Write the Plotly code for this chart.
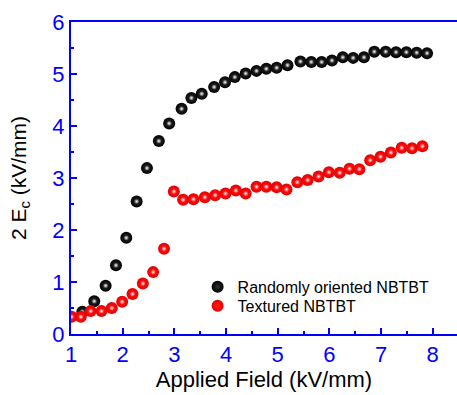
import plotly.graph_objects as go

# Randomly oriented NBTBT
x_random = [1.22, 1.45, 1.67, 1.87, 2.07, 2.27, 2.47, 2.70, 2.90, 3.14, 3.33, 3.53, 3.77,
            3.98, 4.17, 4.38, 4.59, 4.78, 4.98, 5.19, 5.44, 5.65, 5.85, 6.05, 6.26, 6.46,
            6.67, 6.87, 7.09, 7.29, 7.49, 7.69, 7.89]
y_random = [0.43, 0.63, 0.93, 1.32, 1.85, 2.55, 3.19, 3.71, 4.05, 4.33, 4.54, 4.62, 4.75,
            4.84, 4.94, 5.01, 5.06, 5.10, 5.12, 5.17, 5.24, 5.23, 5.23, 5.26, 5.32, 5.31,
            5.32, 5.43, 5.43, 5.42, 5.42, 5.41, 5.40]

# Textured NBTBT
x_textured = [1.01, 1.19, 1.38, 1.59, 1.79, 1.99, 2.19, 2.39, 2.59, 2.80, 2.99, 3.17, 3.37,
              3.59, 3.79, 3.99, 4.19, 4.38, 4.59, 4.78, 4.98, 5.17, 5.38, 5.58, 5.79, 5.99,
              6.20, 6.39, 6.58, 6.79, 6.99, 7.19, 7.40, 7.60, 7.80]
y_textured = [0.33, 0.33, 0.44, 0.44, 0.50, 0.62, 0.77, 0.97, 1.19, 1.64, 2.74, 2.58, 2.59,
              2.63, 2.67, 2.70, 2.76, 2.70, 2.83, 2.83, 2.82, 2.78, 2.92, 2.96, 3.03, 3.11,
              3.10, 3.18, 3.17, 3.34, 3.41, 3.49, 3.58, 3.57, 3.61]

series_names = ["Randomly oriented NBTBT", "Textured NBTBT"]
x_ticks = [1, 2, 3, 4, 5, 6, 7, 8]
y_ticks = [0, 1, 2, 3, 4, 5, 6]

FONT = "Arial, Liberation Sans, sans-serif"
BLUE = "#0000ff"

fig = go.Figure()

def add_spheres(xs, ys, name, base, center, legend_id):
    fig.add_trace(go.Scatter(
        x=xs, y=ys, mode="markers", name=name, legend=legend_id,
        marker=dict(size=12, color=base, line=dict(width=0),
                    gradient=dict(type="radial", color=center)),
    ))
    fig.add_trace(go.Scatter(
        x=xs, y=ys, mode="markers", showlegend=False, hoverinfo="skip",
        marker=dict(size=5, color=center, line=dict(width=0),
                    gradient=dict(type="radial", color="#ffffff")),
    ))

add_spheres(x_random, y_random, series_names[0], "#000000", "#303030", "legend")
add_spheres(x_textured, y_textured, series_names[1], "#e80000", "#ff1a1a", "legend2")

legend_style = dict(xanchor="left", yanchor="middle", bgcolor="rgba(0,0,0,0)",
                    font=dict(size=16, family=FONT, color="black"), itemsizing="constant")

fig.update_layout(
    width=457, height=395,
    margin=dict(l=71, r=0, t=22, b=61),
    paper_bgcolor="white", plot_bgcolor="white",
    font=dict(family=FONT, color="black"),
    showlegend=True,
    legend=dict(x=0.328, y=0.151, **legend_style),
    legend2=dict(x=0.328, y=0.090, **legend_style),
)

fig.update_xaxes(
    range=[1, 8.47], tickvals=x_ticks, ticktext=[str(v) for v in x_ticks],
    showgrid=False, zeroline=False, automargin=False,
    showline=True, linecolor=BLUE, linewidth=2, mirror=True,
    ticks="inside", ticklen=6, tickwidth=1.5, tickcolor=BLUE,
    tickfont=dict(size=22, color=BLUE, family=FONT),
    minor=dict(dtick=0.5, tick0=1, ticks="inside", ticklen=3, tickwidth=1.5, tickcolor=BLUE),
    title=dict(text="Applied Field (kV/mm)", font=dict(size=22, color="black", family=FONT), standoff=2),
)
fig.update_yaxes(
    range=[0, 6], tickvals=y_ticks, ticktext=[str(v) for v in y_ticks],
    showgrid=False, zeroline=False, automargin=False,
    showline=True, linecolor=BLUE, linewidth=2, mirror=False,
    ticks="inside", ticklen=6, tickwidth=1.5, tickcolor=BLUE,
    tickfont=dict(size=22, color=BLUE, family=FONT),
    minor=dict(dtick=0.5, tick0=0, ticks="inside", ticklen=3, tickwidth=1.5, tickcolor=BLUE),
    title=dict(text="2 E<sub>c</sub> (kV/mm)", font=dict(size=21, color="black", family=FONT), standoff=20),
)

fig.write_html("out.html", config={"displayModeBar": False},
               post_script="document.body.style.margin='0';")
